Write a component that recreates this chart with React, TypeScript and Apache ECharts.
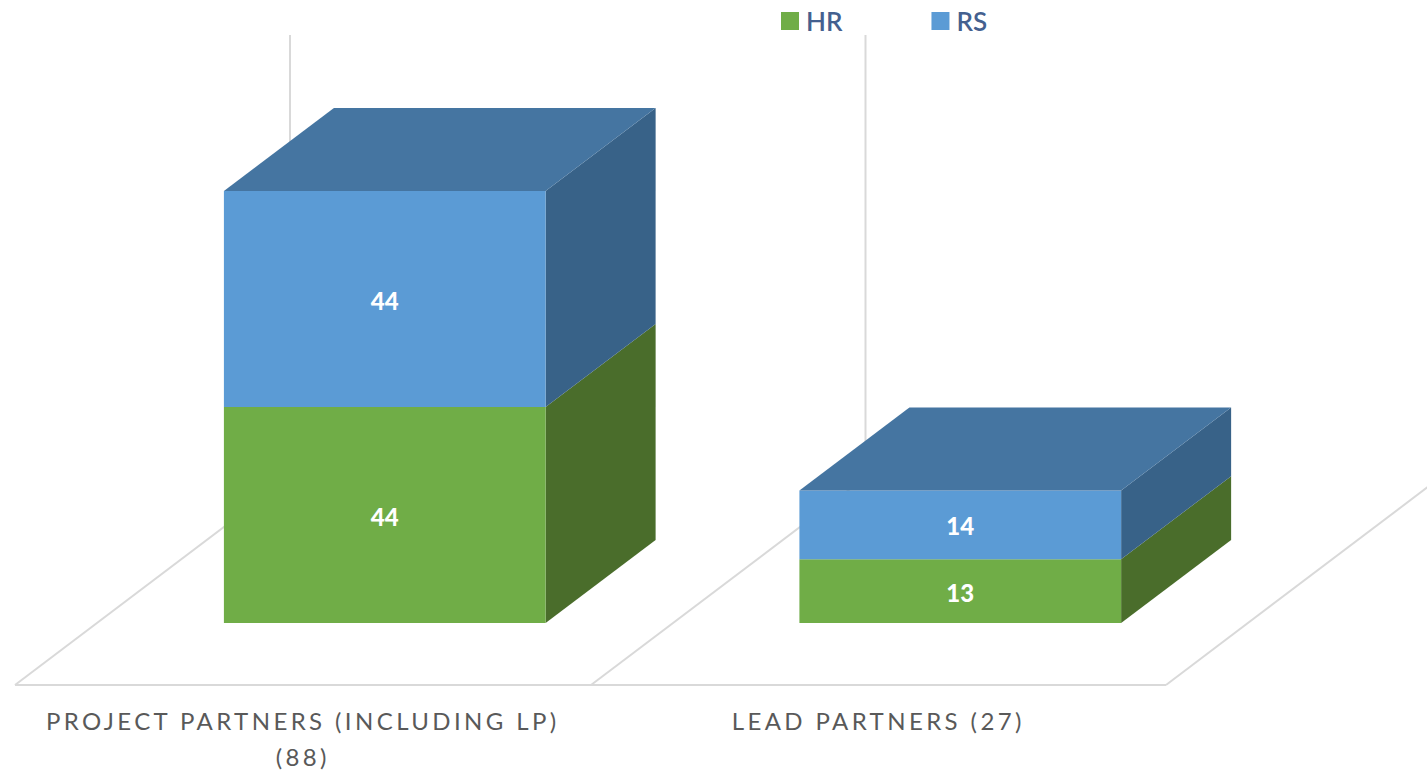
import React, { useEffect, useRef } from "react";
import * as echarts from "echarts";

const categories = ["PROJECT PARTNERS (INCLUDING LP)\n(88)", "LEAD PARTNERS (27)"];
const hrValues = [44, 13];
const rsValues = [44, 14];

const FONT = "Lato";
const DEPTH_X = 110;
const DEPTH_Y = 83;

function makeRender(front: string, side: string, top: string | null) {
  return (params: any, api: any) => {
    const cat = api.value(0);
    const start = api.value(1);
    const end = api.value(2);
    const band = api.size([1, 0])[0];
    const w = band * 0.559;
    const off = band * 0.1425;
    const c0 = api.coord([cat, start]);
    const c1 = api.coord([cat, end]);
    const x0 = c0[0] + off - w / 2;
    const x1 = x0 + w;
    const y0 = c0[1];
    const y1 = c1[1];
    const children: any[] = [
      {
        type: "polygon",
        shape: { points: [[x1, y0], [x1 + DEPTH_X, y0 - DEPTH_Y], [x1 + DEPTH_X, y1 - DEPTH_Y], [x1, y1]] },
        style: { fill: side },
      },
      { type: "rect", shape: { x: x0, y: y1, width: w, height: y0 - y1 }, style: { fill: front } },
      {
        type: "text",
        x: (x0 + x1) / 2,
        y: (y0 + y1) / 2 + 1,
        style: {
          text: String(end - start),
          fill: "#ffffff",
          font: `900 24px ${FONT}`,
          align: "center",
          verticalAlign: "middle",
        },
      },
    ];
    if (top) {
      children.push({
        type: "polygon",
        shape: { points: [[x0, y1], [x1, y1], [x1 + DEPTH_X, y1 - DEPTH_Y], [x0 + DEPTH_X, y1 - DEPTH_Y]] },
        style: { fill: top },
      });
    }
    return { type: "group", children };
  };
}

const gridColor = "#d9d9d9";
const floorLine = (x1: number, y1: number, x2: number, y2: number) => ({
  type: "line",
  z: -1,
  shape: { x1, y1, x2, y2 },
  style: { stroke: gridColor, lineWidth: 2 },
  silent: true,
});

export default function App() {
  const ref = useRef<HTMLDivElement>(null);
  useEffect(() => {
    document.body.style.margin = "0";
    const chart = echarts.init(ref.current!, undefined, { renderer: "svg" });
    const hrData = categories.map((_, i) => [i, 0, hrValues[i]]);
    const rsData = categories.map((_, i) => [i, hrValues[i], hrValues[i] + rsValues[i]]);
    chart.setOption({
      animation: false,
      backgroundColor: "#ffffff",
      grid: { left: 15, width: 1151, top: 132.1, height: 490.9, containLabel: false, outerBoundsMode: "none" },
      legend: {
        left: 776,
        top: 3,
        icon: "rect",
        itemWidth: 18,
        itemHeight: 18,
        itemGap: 89,
        selectedMode: false,
        textStyle: { color: "#44608f", fontFamily: FONT, fontSize: 26, fontWeight: 600, padding: [0, 0, 0, 2] },
        data: ["HR", "RS"],
      },
      xAxis: {
        type: "category",
        data: categories,
        axisLine: { show: false },
        axisTick: { show: false },
        splitLine: { show: false },
        axisLabel: {
          interval: 0,
          margin: 79,
          color: "#595959",
          fontFamily: FONT,
          fontSize: 24,
          lineHeight: 36,
          verticalAlign: "top",
          hideOverlap: false,
        },
      },
      yAxis: { type: "value", min: 0, max: 100, show: false },
      graphic: {
        elements: [
          floorLine(15, 685, 1166, 685),
          floorLine(15, 685, 290, 477),
          floorLine(591, 685, 866, 477),
          floorLine(1166, 685, 1441, 477),
          floorLine(290, 477, 290, 35),
          floorLine(865.5, 477, 865.5, 35),
        ],
      },
      series: [
        {
          name: "HR",
          type: "custom",
          z: 2,
          itemStyle: { color: "#70ad47" },
          renderItem: makeRender("#70ad47", "#4a6d2b", null),
          encode: { x: 0, y: [1, 2] },
          data: hrData,
        },
        {
          name: "RS",
          type: "custom",
          z: 3,
          itemStyle: { color: "#5b9bd5" },
          renderItem: makeRender("#5b9bd5", "#386288", "#4575a1"),
          encode: { x: 0, y: [1, 2] },
          data: rsData,
        },
      ],
    });
    return () => chart.dispose();
  }, []);
  return (
    <>
      <style>{`svg text[style*="24px"]:not([style*="900"]) { letter-spacing: 3.4px; }`}</style>
      <div ref={ref} style={{ width: 1427, height: 771 }} />
    </>
  );
}
